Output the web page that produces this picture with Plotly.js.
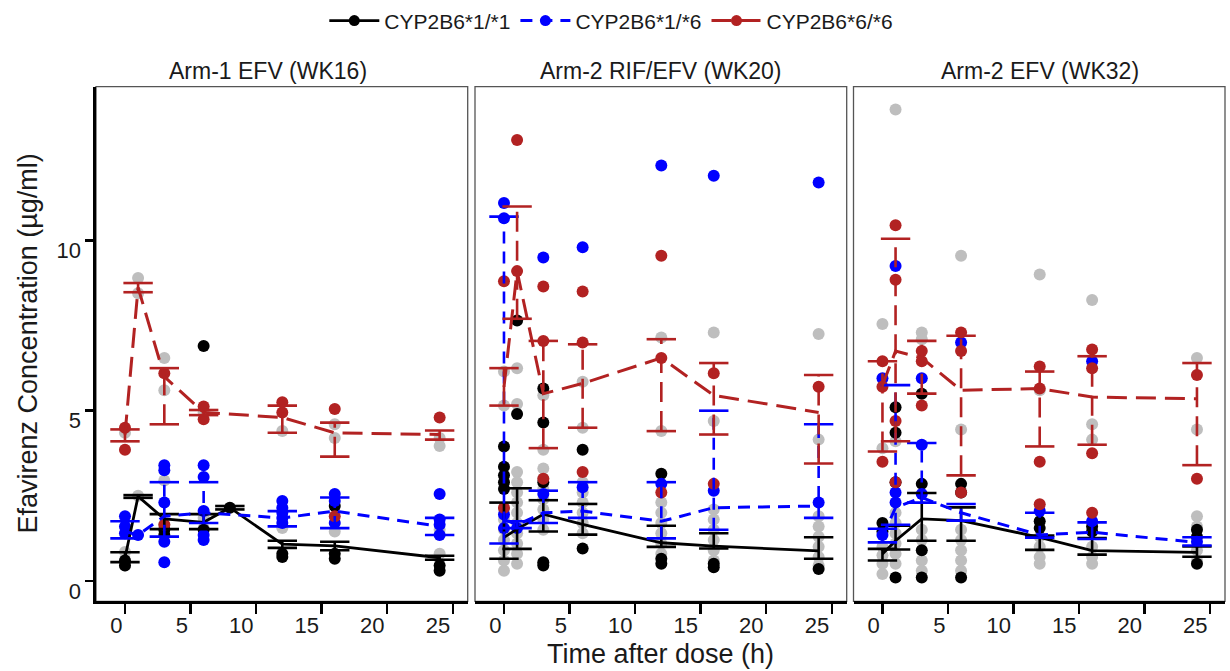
<!DOCTYPE html>
<html>
<head>
<meta charset="utf-8">
<script src="https://cdn.plot.ly/plotly-3.0.1.min.js"></script>
<style>html,body{margin:0;padding:0;background:#fff}#chart{width:1230px;height:671px}</style>
</head>
<body>
<div id="chart"></div>
<script>
// ---------------- data ----------------
const GENOTYPES = ['CYP2B6*1/*1', 'CYP2B6*1/*6', 'CYP2B6*6/*6'];
const PANEL_TITLES = ['Arm-1 EFV (WK16)', 'Arm-2 RIF/EFV (WK20)', 'Arm-2 EFV (WK32)'];
const X_TITLE = 'Time after dose (h)';
const Y_TITLE = 'Efavirenz Concentration (µg/ml)';
const X_TICKS = [0, 5, 10, 15, 20, 25];
const Y_TICKS = [0, 5, 10];

// Panel 1: Arm-1 EFV (WK16)
const TIMES_1 = [0, 1, 3, 6, 8, 12, 16, 24];
const p1WtMean  = [0.68, 2.48, 1.82, 1.72, 2.15, 1.08, 1.03, 0.68];
const p1WtHi    = [0.84, 2.52, 1.96, 1.96, 2.20, 1.18, 1.15, 0.74];
const p1WtLo    = [0.55, 2.44, 1.52, 1.52, 2.10, 0.97, 0.90, 0.62];
const p1HetMean = [1.45, 1.35, 1.90, 2.00, null, 1.85, 2.05, 1.60];
const p1HetHi   = [1.75, null, 2.90, 2.90, null, 2.05, 2.45, 1.85];
const p1HetLo   = [1.25, null, 1.30, 1.70, null, 1.60, 1.55, 1.35];
const p1HomMean = [4.30, 8.62, 6.00, 4.95, null, 4.80, 4.35, 4.30];
const p1HomHi   = [4.45, 8.75, 6.25, 5.02, null, 5.15, 4.65, 4.42];
const p1HomLo   = [4.10, 8.48, 4.60, 4.87, null, 4.35, 3.65, 4.15];
const p1GrayPts = [[4.35, 0.45, 0.85], [8.9, 8.45, 2.5], [6.55, 5.6, 2.95, 1.65], [4.95, 1.55, 1.85], [], [4.4, 1.55], [4.2, 4.6, 1.45], [3.96, 4.2, 1.5, 0.8]];
const p1WtPts   = [[0.45, 0.6], [], [1.5, 1.35], [6.9, 1.5], [2.15], [0.8, 0.7], [0.8, 0.65, 2.2], [0.45, 0.3]];
const p1HetPts  = [[1.9, 1.6, 1.4], [1.35], [3.4, 3.25, 2.3, 1.15, 0.55], [3.4, 3.05, 2.05, 1.35, 1.2], [], [2.35, 2.15, 2.0, 1.85, 1.7], [2.55, 2.35, 1.7], [2.55, 1.8, 1.65, 1.35]];
const p1HomPts  = [[4.5, 3.85], [], [6.1, 1.65], [5.12, 4.75], [], [5.25, 4.95], [5.05, 1.9], [4.8]];

// Panel 2: Arm-2 RIF/EFV (WK20)
const TIMES_2 = [0, 1, 3, 6, 12, 16, 24];
const p2WtMean  = [1.28, 1.52, 1.96, 1.66, 1.12, 1.02, 0.88];
const p2WtHi    = [2.30, 2.72, 2.37, 2.26, 1.62, 1.40, 1.28];
const p2WtLo    = [0.65, 0.94, 1.45, 1.36, 1.00, 0.95, 0.65];
const p2HetMean = [1.80, 1.65, 2.00, 2.05, 1.75, 2.15, 2.20];
const p2HetHi   = [10.70, 1.75, 2.65, 2.90, 2.90, 5.00, 4.60];
const p2HetLo   = [1.10, 1.55, 1.70, 1.85, 1.25, 1.50, 1.85];
const p2HomMean = [5.70, 9.10, 5.50, 5.80, 6.55, 5.45, 4.95];
const p2HomHi   = [6.25, 11.00, 7.05, 6.95, 7.10, 6.40, 6.05];
const p2HomLo   = [5.15, 7.70, 3.90, 4.50, 4.40, 4.30, 3.45];
const p2GrayPts = [[6.15, 5.15, 2.1, 1.8, 1.5, 1.2, 0.9, 0.6, 0.3], [6.25, 5.2, 3.2, 2.9, 2.6, 2.3, 2.0, 1.7, 1.4, 1.1, 0.8, 0.5], [5.45, 3.85, 3.3, 3.0, 2.7, 2.4, 2.1, 1.8, 1.5, 0.5], [5.85, 4.5, 2.9, 2.6, 2.3, 2.0, 1.7, 1.4], [7.15, 4.4, 2.3, 2.0, 1.7, 1.4, 1.1, 0.8], [7.3, 4.7, 2.1, 1.8, 1.5, 1.2, 0.9, 0.6], [7.25, 4.15, 1.9, 1.6, 1.3, 1.0, 0.7, 0.45]];
const p2WtPts   = [[3.95, 3.35, 3.1, 2.9, 2.7], [7.65, 4.9], [5.65, 4.65, 2.9, 0.55, 0.45], [3.85, 0.95], [3.15, 0.65, 0.5], [0.5, 0.4], [0.35]];
const p2HetPts  = [[11.1, 10.65, 1.95, 1.55], [1.55], [9.5, 2.55], [9.8, 2.75], [12.2, 2.85], [11.9, 2.65], [11.7, 2.3]];
const p2HomPts  = [[8.8, 2.15], [12.95, 9.1], [8.65, 7.05, 3.0], [8.5, 7.0, 3.2], [9.55, 6.55, 2.6], [6.1, 2.85], [5.7]];

// Panel 3: Arm-2 EFV (WK32)
const TIMES_3 = [0, 1, 3, 6, 12, 16, 24];
const p3WtMean  = [0.79, 1.18, 1.82, 1.77, 1.28, 0.89, 0.84];
const p3WtHi    = [0.94, 1.62, 2.58, 2.16, 1.33, 1.26, 1.01];
const p3WtLo    = [0.60, 0.92, 1.18, 1.18, 0.91, 0.77, 0.71];
const p3HetMean = [1.30, 2.15, 2.45, 2.00, 1.35, 1.43, 1.13];
const p3HetHi   = [1.53, 5.75, 4.05, 2.26, 2.00, 1.72, 1.28];
const p3HetLo   = [1.13, 1.65, 2.30, 1.77, 1.27, 1.23, 1.04];
const p3HomMean = [5.75, 6.75, 6.55, 5.60, 5.65, 5.40, 5.35];
const p3HomHi   = [6.45, 10.05, 7.05, 7.20, 6.15, 6.60, 6.40];
const p3HomLo   = [3.80, 4.10, 5.50, 3.10, 3.95, 4.00, 3.40];
const p3GrayPts = [[7.55, 3.9, 1.0, 0.75, 0.5, 0.2], [13.85, 4.1, 2.0, 1.7, 1.4, 1.1, 0.8, 0.5], [7.3, 7.1, 1.5, 1.2, 0.6, 0.3], [9.55, 4.45, 1.5, 1.2, 0.9, 0.6, 0.3], [9.0, 5.6, 1.3, 1.0, 0.7, 0.5], [8.25, 4.6, 4.15, 1.0, 0.7, 0.5], [6.55, 4.45, 1.9, 1.6, 0.9, 0.6]];
const p3WtPts   = [[1.7, 1.45], [5.1, 4.35, 2.9, 0.1], [5.5, 2.85, 0.9, 0.1], [2.85, 2.6, 0.1], [1.75, 1.55], [1.6, 1.45], [1.5, 1.3, 0.5]];
const p3HetPts  = [[5.95, 1.35], [9.25, 2.6, 2.3], [5.95, 4.0, 2.55], [7.0], [2.05], [6.45, 1.75], [1.15]];
const p3HomPts  = [[6.45, 5.7, 3.5], [10.45, 8.85, 4.7, 2.9], [6.75, 6.45, 5.15], [7.3, 6.75, 2.6], [6.3, 5.65, 3.5, 2.25], [6.8, 6.25, 3.75, 2.0], [6.05, 3.0]];

// ---------------- styling ----------------
const FONT = 'Liberation Sans, Arial, Helvetica, sans-serif';
const TXT = '#1a1a1a';
const GRAY = '#BEBEBE';
const GEN_STYLE = [
  {color: '#000000', dash: 'solid', width: 2.8},
  {color: '#0000FF', dash: '12px,8px', width: 3},
  {color: '#B22222', dash: '20px,9px', width: 3}
];
const W = 1230, H = 671;
const PANEL_PX = [[96, 467.7], [475, 846.7], [853.5, 1225]];
const TITLE_X = [268, 661, 1040];
const PLOT_TOP = 84, PLOT_BOTTOM = 601;

function flatten(times, nested) {
  const x = [], y = [];
  nested.forEach((vals, i) => vals.forEach(v => { x.push(times[i]); y.push(v); }));
  return {x, y};
}
function stems(times, hi, lo) {
  const x = [], y = [];
  times.forEach((t, i) => { if (hi[i] != null && lo[i] != null) { x.push(t, t, null); y.push(lo[i], hi[i], null); } });
  return {x, y};
}
function caps(times, hi, lo) {
  const x = [], y = [];
  times.forEach((t, i) => {
    if (hi[i] != null) { x.push(t); y.push(hi[i]); }
    if (lo[i] != null) { x.push(t); y.push(lo[i]); }
  });
  return {x, y};
}

const PANELS = [
  {times: TIMES_1, gray: p1GrayPts, pts: [p1WtPts, p1HetPts, p1HomPts],
   mean: [p1WtMean, p1HetMean, p1HomMean], hi: [p1WtHi, p1HetHi, p1HomHi], lo: [p1WtLo, p1HetLo, p1HomLo]},
  {times: TIMES_2, gray: p2GrayPts, pts: [p2WtPts, p2HetPts, p2HomPts],
   mean: [p2WtMean, p2HetMean, p2HomMean], hi: [p2WtHi, p2HetHi, p2HomHi], lo: [p2WtLo, p2HetLo, p2HomLo]},
  {times: TIMES_3, gray: p3GrayPts, pts: [p3WtPts, p3HetPts, p3HomPts],
   mean: [p3WtMean, p3HetMean, p3HomMean], hi: [p3WtHi, p3HetHi, p3HomHi], lo: [p3WtLo, p3HetLo, p3HomLo]}
];

const traces = [];
// legend entries
GENOTYPES.forEach((g, k) => {
  const s = GEN_STYLE[k];
  traces.push({x: [null], y: [null], name: g, type: 'scatter', mode: 'lines+markers', xaxis: 'x', yaxis: 'y',
    line: {color: s.color, dash: s.dash, width: s.width}, marker: {color: s.color, size: 11}, showlegend: true, hoverinfo: 'skip'});
});

PANELS.forEach((p, idx) => {
  const xa = idx === 0 ? 'x' : 'x' + (idx + 1);
  const ya = idx === 0 ? 'y' : 'y' + (idx + 1);
  const g = flatten(p.times, p.gray);
  traces.push({x: g.x, y: g.y, type: 'scatter', mode: 'markers', xaxis: xa, yaxis: ya, showlegend: false,
    marker: {color: GRAY, size: 12}, hoverinfo: 'skip'});
  p.pts.forEach((arr, k) => {
    const f = flatten(p.times, arr);
    traces.push({x: f.x, y: f.y, type: 'scatter', mode: 'markers', xaxis: xa, yaxis: ya, showlegend: false,
      marker: {color: GEN_STYLE[k].color, size: 12}, hoverinfo: 'skip'});
  });
  [0, 1, 2].forEach(k => {
    const s = GEN_STYLE[k];
    const st = stems(p.times, p.hi[k], p.lo[k]);
    traces.push({x: st.x, y: st.y, type: 'scatter', mode: 'lines', xaxis: xa, yaxis: ya, showlegend: false,
      connectgaps: false, line: {color: s.color, dash: s.dash, width: 2.6}, hoverinfo: 'skip'});
    const c = caps(p.times, p.hi[k], p.lo[k]);
    traces.push({x: c.x, y: c.y, type: 'scatter', mode: 'markers', xaxis: xa, yaxis: ya, showlegend: false,
      marker: {symbol: 'line-ew', size: 21, line: {color: s.color, width: 2.6}}, hoverinfo: 'skip'});
    traces.push({x: p.times, y: p.mean[k], type: 'scatter', mode: 'lines', xaxis: xa, yaxis: ya, showlegend: false,
      connectgaps: true, line: {color: s.color, dash: s.dash, width: s.width}, hoverinfo: 'skip'});
  });
});

const xBase = {
  range: [-2.21, 26.14], tickvals: X_TICKS, ticktext: X_TICKS.map(String),
  ticks: 'outside', ticklen: 10, tickwidth: 2.5, tickcolor: '#000',
  showline: true, linewidth: 2.7, linecolor: '#000',
  ticklabelposition: 'outside left', ticklabelstandoff: 3,
  tickfont: {family: FONT, size: 22, color: TXT},
  showgrid: false, zeroline: false, fixedrange: true
};
const yDomain = [(H - PLOT_BOTTOM) / H, (H - PLOT_TOP) / H];
const layout = {
  width: W, height: H,
  margin: {l: 0, r: 0, t: 0, b: 0},
  paper_bgcolor: '#fff', plot_bgcolor: '#fff',
  font: {family: FONT, color: TXT},
  showlegend: true,
  legend: {orientation: 'h', x: 0.497, xanchor: 'center', y: (H - 18) / H, yanchor: 'middle',
    font: {family: FONT, size: 21, color: TXT}, bgcolor: 'rgba(0,0,0,0)', itemwidth: 50},
  xaxis: Object.assign({}, xBase, {domain: [PANEL_PX[0][0] / W, PANEL_PX[0][1] / W], anchor: 'y'}),
  xaxis2: Object.assign({}, xBase, {domain: [PANEL_PX[1][0] / W, PANEL_PX[1][1] / W], anchor: 'y2'}),
  xaxis3: Object.assign({}, xBase, {domain: [PANEL_PX[2][0] / W, PANEL_PX[2][1] / W], anchor: 'y3'}),
  yaxis: {domain: yDomain, range: [-0.6, 14.52], tickvals: Y_TICKS, ticktext: Y_TICKS.map(String),
    ticks: 'outside', ticklen: 8, tickwidth: 2.5, tickcolor: '#000',
    showline: true, linewidth: 2.7, linecolor: '#000',
    ticklabelshift: 10,
    tickfont: {family: FONT, size: 22, color: TXT}, showgrid: false, zeroline: false, anchor: 'x', fixedrange: true},
  yaxis2: {domain: yDomain, matches: 'y', showticklabels: false, ticks: '', showgrid: false, zeroline: false, showline: false, anchor: 'x2', fixedrange: true},
  yaxis3: {domain: yDomain, matches: 'y', showticklabels: false, ticks: '', showgrid: false, zeroline: false, showline: false, anchor: 'x3', fixedrange: true},
  shapes: ['', '2', '3'].map(s => ({type: 'rect', xref: 'x' + s + ' domain', yref: 'y' + s + ' domain',
    x0: 0, x1: 1, y0: 0, y1: 1, line: {color: '#555', width: 1.3}, layer: 'below'})),
  annotations: PANEL_TITLES.map((t, i) => ({text: t, xref: 'paper', yref: 'paper',
    x: TITLE_X[i] / W, y: (H - 68) / H, xanchor: 'center', yanchor: 'middle',
    showarrow: false, font: {family: FONT, size: 23, color: TXT}})).concat([
    {text: X_TITLE, xref: 'paper', yref: 'paper', x: 660 / W, y: (H - 654) / H, xanchor: 'center', yanchor: 'middle',
      showarrow: false, font: {family: FONT, size: 27, color: TXT}},
    {text: Y_TITLE, xref: 'paper', yref: 'paper', x: 28 / W, y: (H - 342) / H, xanchor: 'center', yanchor: 'middle',
      textangle: -90, showarrow: false, font: {family: FONT, size: 27, color: TXT}}
  ])
};

Plotly.newPlot('chart', traces, layout, {displayModeBar: false, staticPlot: true});
</script>
</body>
</html>
